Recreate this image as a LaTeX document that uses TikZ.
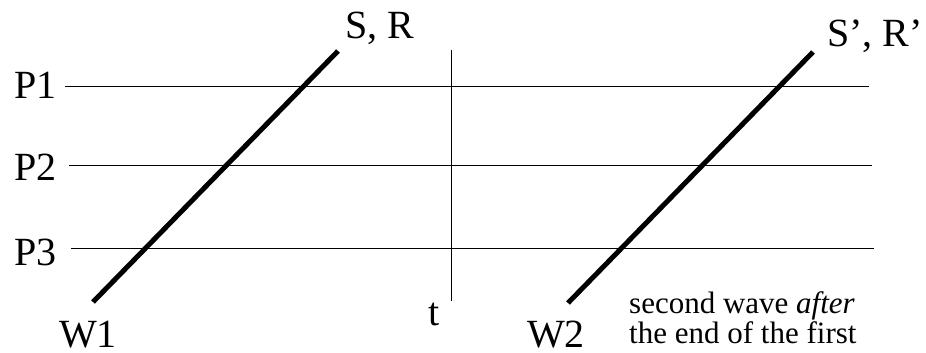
\documentclass[tikz,border=0pt]{standalone}
\usepackage{fontspec}
\setmainfont{Liberation Serif}
\begin{document}
\begin{tikzpicture}[x=1pt,y=-1pt,
  biglabel/.style={inner sep=0pt,anchor=base west,font=\fontsize{40}{44}\selectfont},
  smalllabel/.style={inner sep=0pt,anchor=base west,align=left,font=\fontsize{31}{26}\selectfont},
  thinline/.style={line width=1pt,black},
  wave/.style={line width=5pt,black}]
\useasboundingbox (0,0) rectangle (926,353);
% labels
\node[biglabel] (p1) at (14,99) {P1};
\node[biglabel] (p2) at (14,180) {P2};
\node[biglabel] (p3) at (14,265) {P3};
\node[biglabel] (sr) at (345,39) {S, R};
\node[biglabel] (srp) at (827,47) {S’, R’};
\node[biglabel,text depth=0pt] (w1) at (59,347) {W1};
\node[biglabel,text depth=0pt] (w2) at (527,347) {W2};
\node[biglabel] (t) at (428,325) {t};
\node[smalllabel] (note) at (629,343) {second wave \textit{after}\\the end of the first};
% coordinates
\coordinate (a1) at (65,86);  \coordinate (b1) at (869,86);
\coordinate (a2) at (69,165); \coordinate (b2) at (872,165);
\coordinate (a3) at (71,248); \coordinate (b3) at (874,248);
\coordinate (ttop) at (451,50); \coordinate (tbot) at (451,301);
\coordinate (w1s) at (93,302); \coordinate (w1e) at (338,51);
\coordinate (w2s) at (568,303); \coordinate (w2e) at (813,52);
% lines
\draw[thinline] (a1) -- (b1);
\draw[thinline] (a2) -- (b2);
\draw[thinline] (a3) -- (b3);
\draw[thinline] (ttop) -- (tbot);
\draw[wave] (w1s) -- (w1e);
\draw[wave] (w2s) -- (w2e);
\end{tikzpicture}
\end{document}
